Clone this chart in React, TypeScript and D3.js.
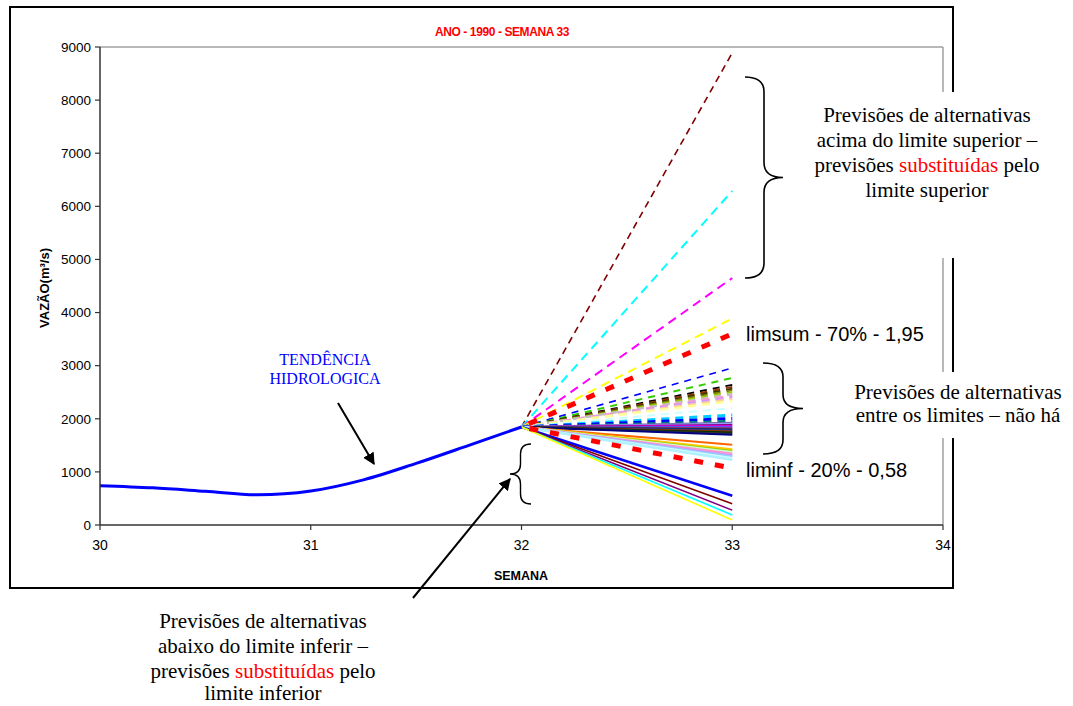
import React from "react";
import * as d3 from "d3";

// ---------- data ----------
const histWeeks = [30, 30.25, 30.5, 30.75, 31, 31.25, 31.5, 31.75, 32];
const histFlow = [740, 700, 635, 568, 640, 850, 1160, 1500, 1845];

const forecastStart = 32;
const forecastEnd = 33;
const limSup = 3600; // limsum 1,95
const limInf = 1070; // liminf 0,58

// end values (week 33) of each alternative forecast
const forecastValues = [
  8890, 6290, 4650, 3890,
  2955, 2770, 2640, 2600, 2565, 2535, 2500, 2465, 2435, 2405, 2370, 2335,
  2200, 2070, 2005, 1960,
  1925, 1905, 1885, 1860, 1840, 1820, 1800, 1780, 1760, 1740, 1720, 1700,
  1510, 1420, 1390, 1370, 1340, 1310, 1285, 1255, 1230,
  550, 400, 280, 190, 95,
];

const yTicks = [0, 1000, 2000, 3000, 4000, 5000, 6000, 7000, 8000, 9000];
const xTicks = [30, 31, 32, 33, 34];

// ---------- styles ----------
const forecastColors = [
  "#800000", "#00ffff", "#ff00ff", "#ffff00",
  "#0000ff", "#33cc00", "#000000", "#993300", "#333300", "#808000", "#99cc00", "#c0c0c0", "#ff99cc", "#cc99ff", "#ffcc99", "#ffff99",
  "#ccffff", "#00ccff", "#0000ff", "#008080",
  "#666699", "#9999ff", "#800080", "#ff00ff", "#3366ff", "#993366", "#003366", "#333399", "#993300", "#003300", "#333333", "#000080",
  "#ff6600", "#ffcc00", "#99cc00", "#ccffcc", "#ff99cc", "#cc99ff", "#99ccff", "#ccffff", "#b0f0ff",
  "#0000ff", "#800000", "#800080", "#00ffff", "#ffff00",
];
const forecastDash = [
  "7,5", "9,6", "9,6", "9,6",
  "7,6", "7,6", "7,6", "7,6", "7,6", "7,6", "7,6", "7,6", "8,6", "8,6", "8,6", "8,6",
  "8,6", "8,6", "8,6", "8,6",
  "", "", "", "", "", "", "", "", "", "", "", "",
  "", "", "", "", "", "", "", "", "",
  "", "", "", "", "",
];
const forecastWidth = [
  1.6, 2, 2, 2,
  1.6, 2, 1.8, 2, 2, 2, 2, 2.5, 2.5, 2.5, 2.5, 2.5,
  2, 3, 3, 2,
  2, 2, 2, 2, 2, 2, 2, 2, 2, 2, 2, 2,
  2, 2.5, 2.5, 2.5, 2.5, 2.5, 2.5, 2.5, 2.5,
  2.5, 1.6, 1.6, 1.6, 1.6,
];

const SANS = "'Liberation Sans', Arial, sans-serif";
const SERIF = "'Liberation Serif', 'Times New Roman', serif";

function bracePath(x0: number, y1: number, y2: number, tip: number, r = 15) {
  const xs = (x0 + tip) / 2;
  const ym = (y1 + y2) / 2;
  return `M${x0},${y1} Q${xs},${y1} ${xs},${y1 + r} L${xs},${ym - r} Q${xs},${ym} ${tip},${ym} Q${xs},${ym} ${xs},${ym + r} L${xs},${y2 - r} Q${xs},${y2} ${x0},${y2}`;
}

export default function App() {
  const left = 100, right = 943, top = 47, bottom = 525;
  const x = d3.scaleLinear().domain([30, 34]).range([left, right]);
  const y = d3.scaleLinear().domain([0, 9000]).range([bottom, top]);

  const line = d3
    .line<[number, number]>()
    .x((d) => x(d[0]))
    .y((d) => y(d[1]));
  const smooth = d3
    .line<[number, number]>()
    .x((d) => x(d[0]))
    .y((d) => y(d[1]))
    .curve(d3.curveCatmullRom.alpha(0.5));

  const base = histFlow[histFlow.length - 1];
  const hist: [number, number][] = histWeeks.map((w, i) => [w, histFlow[i]]);

  const arrowId = "arrowHead";

  return (
    <svg
      width={1073}
      height={706}
      style={{ position: "absolute", left: 0, top: 0, background: "#fff" }}
    >
      <defs>
        <marker id={arrowId} viewBox="0 0 10 10" refX="9" refY="5" markerWidth="6" markerHeight="6" orient="auto">
          <path d="M0,0 L10,5 L0,10 z" fill="#000" />
        </marker>
      </defs>
      <rect x={0} y={0} width={1073} height={706} fill="#fff" />
      {/* outer chart frame */}
      <rect x={10} y={7} width={943} height={581} fill="#fff" stroke="#000" strokeWidth={2} />

      {/* title */}
      <text x={502} y={36} textAnchor="middle" fill="#ff0000" fontFamily={SANS} fontWeight="bold" fontSize={12} letterSpacing={-0.4}>
        ANO - 1990 - SEMANA 33
      </text>

      {/* plot area border (top/right gray) */}
      <line x1={left} y1={top} x2={right} y2={top} stroke="#a0a0a0" strokeWidth={1.5} />
      <line x1={right} y1={top} x2={right} y2={bottom} stroke="#a0a0a0" strokeWidth={1.5} />

      {/* forecasts */}
      {forecastValues.map((v, i) => (
        <path
          key={"f" + i}
          d={line([[forecastStart, base], [forecastEnd, v]]) || ""}
          fill="none"
          stroke={forecastColors[i]}
          strokeWidth={forecastWidth[i]}
          strokeDasharray={forecastDash[i] || undefined}
        />
      ))}
      {/* limits */}
      {[limSup, limInf].map((v, i) => (
        <path
          key={"l" + i}
          d={line([[forecastStart, base], [forecastEnd, v]]) || ""}
          fill="none"
          stroke="#ff0000"
          strokeWidth={5}
          strokeDasharray="9,12"
          strokeDashoffset={-8}
        />
      ))}

      {/* historical trend */}
      <path d={smooth(hist) || ""} fill="none" stroke="#0000ff" strokeWidth={3} />

      {/* axes */}
      <line x1={left} y1={top} x2={left} y2={bottom} stroke="#333" strokeWidth={1.5} />
      <line x1={left} y1={bottom} x2={right} y2={bottom} stroke="#333" strokeWidth={1.5} />
      {yTicks.map((t) => (
        <g key={"yt" + t}>
          <line x1={left - 5} x2={left} y1={y(t)} y2={y(t)} stroke="#333" strokeWidth={1.2} />
          <text x={left - 9} y={y(t)} dy="0.35em" textAnchor="end" fontFamily={SANS} fontSize={13.5} fill="#000">
            {t}
          </text>
        </g>
      ))}
      {xTicks.map((t) => (
        <g key={"xt" + t}>
          <line x1={x(t)} x2={x(t)} y1={bottom} y2={bottom + 5} stroke="#333" strokeWidth={1.2} />
          <text x={x(t)} y={bottom + 20} dy="0.35em" textAnchor="middle" fontFamily={SANS} fontSize={14} fill="#000">
            {t}
          </text>
        </g>
      ))}
      <text
        transform={`translate(49,288) rotate(-90)`}
        textAnchor="middle"
        fontFamily={SANS}
        fontWeight="bold"
        fontSize={13}
        fill="#000"
      >
        VAZÃO(m³/s)
      </text>
      <text x={521} y={580} textAnchor="middle" fontFamily={SANS} fontWeight="bold" fontSize={12.5} fill="#000">
        SEMANA
      </text>

      {/* limit labels */}
      <text x={746} y={341} fontFamily={SANS} fontSize={20} fill="#000">limsum - 70% - 1,95</text>
      <text x={746} y={477} fontFamily={SANS} fontSize={20} fill="#000">liminf - 20% - 0,58</text>

      {/* braces */}
      <path d={bracePath(745, 77, 278, 783)} fill="none" stroke="#000" strokeWidth={1.6} />
      <path d={bracePath(763, 363, 454, 803, 14)} fill="none" stroke="#000" strokeWidth={1.6} />
      <path d={bracePath(531, 444, 504, 510, 10)} fill="none" stroke="#000" strokeWidth={1.4} />

      {/* annotation boxes (white background) */}
      <rect x={805} y={92} width={260} height={166} fill="#fff" />
      <g fontFamily={SERIF} fontSize={21} fill="#000" textAnchor="middle">
        <text x={927} y={122}>Previsões de alternativas</text>
        <text x={927} y={147}>acima do limite superior –</text>
        <text x={927} y={172}>
          previsões <tspan fill="#ff0000">substituídas</tspan> pelo
        </text>
        <text x={927} y={197}>limite superior</text>
      </g>
      <rect x={848} y={372} width={222} height={66} fill="#fff" />
      <g fontFamily={SERIF} fontSize={21} fill="#000" textAnchor="middle">
        <text x={958} y={399}>Previsões de alternativas</text>
        <text x={958} y={422}>entre os limites – não há</text>
      </g>

      <g fontFamily={SERIF} fontSize={21} fill="#000" textAnchor="middle">
        <text x={263} y={628}>Previsões de alternativas</text>
        <text x={263} y={653}>abaixo do limite inferir –</text>
        <text x={263} y={678}>
          previsões <tspan fill="#ff0000">substituídas</tspan> pelo
        </text>
        <text x={263} y={700}>limite inferior</text>
      </g>

      <g fontFamily={SERIF} fontSize={16} fill="#0000ff" textAnchor="middle">
        <text x={325} y={365}>TENDÊNCIA</text>
        <text x={325} y={384}>HIDROLOGICA</text>
      </g>

      {/* arrows */}
      <line x1={338} y1={403} x2={374} y2={464} stroke="#000" strokeWidth={2} markerEnd={`url(#${arrowId})`} />
      <line x1={413} y1={598} x2={510} y2={479} stroke="#000" strokeWidth={2} markerEnd={`url(#${arrowId})`} />
    </svg>
  );
}
